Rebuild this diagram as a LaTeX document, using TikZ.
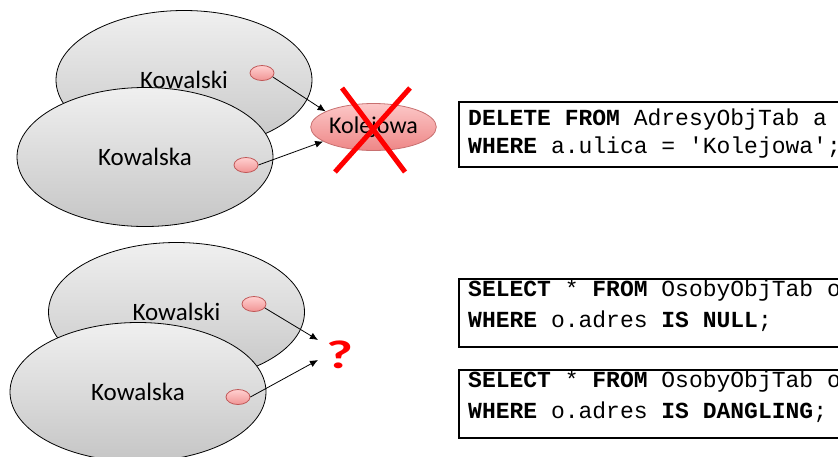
\documentclass[tikz,border=0pt]{standalone}
\usepackage{fontspec}
\usetikzlibrary{shapes.geometric,arrows.meta}
\newfontfamily\carl{Carlito}
\newfontfamily\codefont{Liberation Mono}
\definecolor{dotfill}{HTML}{FFD0D0}
\definecolor{dotfillb}{HTML}{F09494}
\definecolor{dotdraw}{HTML}{C05858}
\definecolor{kolfill}{HTML}{FCC8C8}
\definecolor{kolfillb}{HTML}{EE8686}
\definecolor{koldraw}{HTML}{C87070}
\definecolor{xred}{HTML}{FF0000}
\tikzset{
  person/.style={ellipse, draw=black, line width=0.8pt, top color=gray!12, bottom color=gray!45,
    minimum width=256pt, minimum height=139pt, inner sep=0pt, font=\carl\fontsize{25}{28}\selectfont},
  refdot/.style={ellipse, draw=dotdraw, line width=0.8pt, top color=dotfill, bottom color=dotfillb,
    minimum width=24pt, minimum height=15pt, inner sep=0pt},
  addr/.style={ellipse, draw=koldraw, line width=0.8pt, top color=kolfill, bottom color=kolfillb,
    minimum width=124pt, minimum height=47pt, inner sep=0pt, font=\carl\fontsize{24}{28}\selectfont},
  refarrow/.style={-{Latex[length=8pt,width=7pt]}, line width=0.8pt, black},
  codebox/.style={draw=black, line width=2pt, anchor=north west, minimum width=500pt, inner sep=0pt},
  codeline/.style={anchor=base west, inner sep=0pt, font=\codefont\fontsize{23}{28}\selectfont},
  cross/.style={xred, line width=5pt},
}
\begin{document}
\begin{tikzpicture}[x=1pt,y=-1pt]
\useasboundingbox (0,0) rectangle (838,456);
\clip (0,0) rectangle (838,456);
% top group
\node[person] (ki1) at (184,80) {Kowalski};
\node[refdot] (d1) at (262,73) {};
\node[person] (ka1) at (145,157) {Kowalska};
\node[refdot] (d2) at (246,165) {};
\node[addr] (kol) at (373.5,127) {Kolejowa};
\draw[refarrow] (d1.-20) -- (kol.162);
\draw[refarrow] (d2.east) -- (kol.196);
\coordinate (x1a) at (342,88);
\coordinate (x1b) at (405,172);
\coordinate (x2a) at (410,88);
\coordinate (x2b) at (335,172);
\draw[cross] (x1a) -- (x1b);
\draw[cross] (x2a) -- (x2b);
% bottom group
\node[person] (ki2) at (176.5,312) {Kowalski};
\node[refdot] (d3) at (254,304) {};
\node[person] (ka2) at (138,392) {Kowalska};
\node[refdot] (d4) at (238,397) {};
\coordinate (q1) at (318,340);
\coordinate (q2) at (318,360);
\draw[refarrow] (d3.-20) -- (q1);
\draw[refarrow] (d4.east) -- (q2);
\node[text=xred, font=\carl\bfseries\fontsize{40}{44}\selectfont, inner sep=0pt] (qm) at (339.5,355) {\scalebox{1.45}[1]{?}};
% code boxes
\node[codebox, minimum height=65pt] (b1) at (458,101) {};
\node[codeline] (b1l1) at (468,125) {\textbf{DELETE FROM} AdresyObjTab a};
\node[codeline] (b1l2) at (468,153) {\textbf{WHERE} a.ulica = 'Kolejowa';};
\node[codebox, minimum height=68pt] (b2) at (458,278) {};
\node[codeline] (b2l1) at (468,296) {\textbf{SELECT} * \textbf{FROM} OsobyObjTab o};
\node[codeline] (b2l2) at (468,327) {\textbf{WHERE} o.adres \textbf{IS NULL};};
\node[codebox, minimum height=68pt] (b3) at (458,369) {};
\node[codeline] (b3l1) at (468,387) {\textbf{SELECT} * \textbf{FROM} OsobyObjTab o};
\node[codeline] (b3l2) at (468,418) {\textbf{WHERE} o.adres \textbf{IS DANGLING};};
\end{tikzpicture}
\end{document}
